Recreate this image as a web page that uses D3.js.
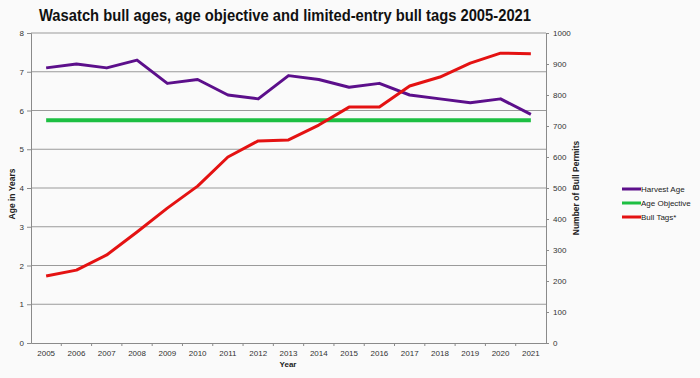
<!DOCTYPE html>
<html><head><meta charset="utf-8">
<script src="https://cdn.jsdelivr.net/npm/d3@7"></script>
<style>body{margin:0;background:#fafafa;}svg{display:block;font-family:"Liberation Sans",Arial,sans-serif;}</style>
</head><body><svg id="c" width="700" height="378"></svg>
<script>
const years = ["2005","2006","2007","2008","2009","2010","2011","2012","2013","2014","2015","2016","2017","2018","2019","2020","2021"];
const harvestAge = [7.1,7.2,7.1,7.3,6.7,6.8,6.4,6.3,6.9,6.8,6.6,6.7,6.4,6.3,6.2,6.3,5.9];
const ageObjective = [5.75,5.75,5.75,5.75,5.75,5.75,5.75,5.75,5.75,5.75,5.75,5.75,5.75,5.75,5.75,5.75,5.75];
const bullTags = [216,235,284,358,435,506,600,652,655,703,761,761,829,858,903,935,933];
const leftTicks = [0,1,2,3,4,5,6,7,8];
const rightTicks = [0,100,200,300,400,500,600,700,800,900,1000];
const legendItems = ["Harvest Age","Age Objective","Bull Tags*"];
const colors = ["#5c0f8b","#1dbf42","#e41212"];

const svg = d3.select("#c");
const L=31, R=546, T=33, B=343;
const x = d3.scaleBand().domain(years).range([L,R]);
const yL = d3.scaleLinear().domain([0,8]).range([B,T]);
const yR = d3.scaleLinear().domain([0,1000]).range([B,T]);
const cx = d => x(d)+x.bandwidth()/2;

svg.append("rect").attr("width",700).attr("height",378).attr("fill","#fafafa");

// grid
svg.append("g").selectAll("line").data(leftTicks.filter(d=>d>0)).join("line")
  .attr("x1",L).attr("x2",R).attr("y1",d=>yL(d)).attr("y2",d=>yL(d))
  .attr("stroke","#9a9a9a").attr("stroke-width",1);

// axes
const ax = svg.append("g").attr("transform",`translate(${L},0)`)
  .call(d3.axisLeft(yL).tickValues(leftTicks).tickSize(4).tickPadding(3));
const axR = svg.append("g").attr("transform",`translate(${R},0)`)
  .call(d3.axisRight(yR).tickValues(rightTicks).tickFormat(d3.format("d")).tickSize(3).tickPadding(4));
const axB = svg.append("g").attr("transform",`translate(0,${B})`)
  .call(d3.axisBottom(x).tickSize(0).tickPadding(7));
[ax,axR,axB].forEach(g=>{
  g.selectAll(".domain").attr("stroke","#8a8a8a");
  g.selectAll(".tick line").attr("stroke","#8a8a8a");
  g.selectAll("text").attr("font-size",8).attr("fill","#333");
});
// x boundary ticks
svg.append("g").selectAll("line").data(years.slice(1)).join("line")
  .attr("x1",d=>x(d)).attr("x2",d=>x(d)).attr("y1",B).attr("y2",B+3)
  .attr("stroke","#8a8a8a");

// lines
const lineL = d3.line().x((d,i)=>cx(years[i])).y(d=>yL(d));
const lineR = d3.line().x((d,i)=>cx(years[i])).y(d=>yR(d));
svg.append("path").datum(ageObjective).attr("d",lineL).attr("fill","none").attr("stroke",colors[1]).attr("stroke-width",4);
svg.append("path").datum(harvestAge).attr("d",lineL).attr("fill","none").attr("stroke",colors[0]).attr("stroke-width",3).attr("stroke-linejoin","round");
svg.append("path").datum(bullTags).attr("d",lineR).attr("fill","none").attr("stroke",colors[2]).attr("stroke-width",3).attr("stroke-linejoin","round");

// title
svg.append("text").attr("x",39).attr("y",21).attr("font-size",16).attr("font-weight","bold").attr("fill","#111")
  .attr("textLength",492).attr("lengthAdjust","spacingAndGlyphs")
  .text("Wasatch bull ages, age objective and limited-entry bull tags 2005-2021");
// axis titles
svg.append("text").attr("transform","translate(15,194) rotate(-90)").attr("text-anchor","middle")
  .attr("font-size",8.5).attr("font-weight","bold").attr("fill","#222").text("Age in Years");
svg.append("text").attr("transform","translate(579,188) rotate(-90)").attr("text-anchor","middle")
  .attr("font-size",8.5).attr("font-weight","bold").attr("fill","#222").text("Number of Bull Permits");
svg.append("text").attr("x",288).attr("y",367).attr("text-anchor","middle")
  .attr("font-size",8).attr("font-weight","bold").attr("fill","#222").text("Year");

// legend
const lg = svg.append("g").selectAll("g").data(legendItems).join("g")
  .attr("transform",(d,i)=>`translate(622,${189+i*14})`);
lg.append("line").attr("x1",0).attr("x2",19).attr("stroke",(d,i)=>colors[i]).attr("stroke-width",3);
lg.append("text").attr("x",19).attr("y",3).attr("font-size",8).attr("fill","#222").text(d=>d);
</script></body></html>
